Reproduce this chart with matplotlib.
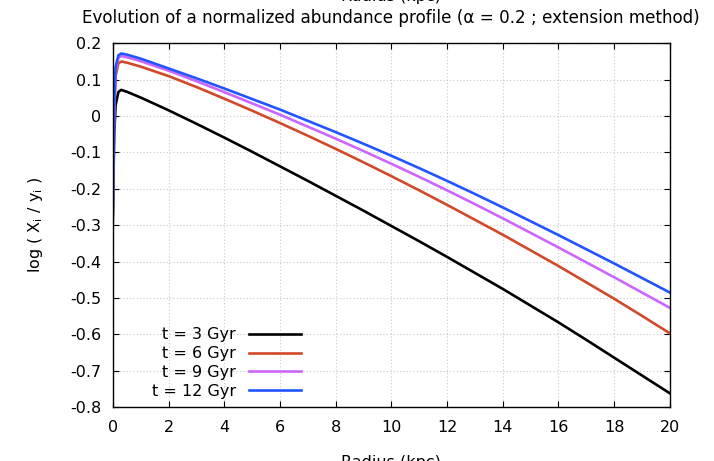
import numpy as np
import matplotlib
matplotlib.use('Agg')
import matplotlib.pyplot as plt

plt.rcParams['font.family'] = ['DejaVu Sans']
plt.rcParams['mathtext.default'] = 'regular'

radius = [0, 0.05, 0.1, 0.2, 0.3, 0.5, 1, 2, 3, 4, 5, 6, 7, 8, 9, 10,
          11, 12, 13, 14, 15, 16, 17, 18, 19, 20]

t3 = [-0.29, -0.05, 0.03, 0.066, 0.072, 0.067, 0.051, 0.016, -0.021, -0.059,
      -0.098, -0.138, -0.178, -0.219, -0.260, -0.302, -0.344, -0.387, -0.431,
      -0.475, -0.521, -0.567, -0.615, -0.664, -0.713, -0.762]
t6 = [-0.27, 0.0, 0.11, 0.145, 0.150, 0.147, 0.136, 0.110, 0.080, 0.048,
      0.015, -0.019, -0.054, -0.090, -0.127, -0.165, -0.204, -0.244, -0.285,
      -0.326, -0.369, -0.412, -0.457, -0.502, -0.549, -0.597]
t9 = [-0.265, 0.02, 0.125, 0.160, 0.165, 0.162, 0.151, 0.125, 0.096, 0.066,
      0.035, 0.004, -0.029, -0.062, -0.096, -0.131, -0.167, -0.204, -0.242,
      -0.281, -0.321, -0.361, -0.402, -0.443, -0.485, -0.527]
t12 = [-0.26, 0.03, 0.135, 0.167, 0.172, 0.169, 0.158, 0.131, 0.104, 0.076,
       0.047, 0.018, -0.013, -0.044, -0.076, -0.109, -0.143, -0.178, -0.214,
       -0.251, -0.289, -0.327, -0.366, -0.405, -0.445, -0.485]

labels = ['t = 3 Gyr', 't = 6 Gyr', 't = 9 Gyr', 't = 12 Gyr']
colors = ['#000000', '#d2492a', '#cc66ff', '#2255ff']
yticks = [-0.8, -0.7, -0.6, -0.5, -0.4, -0.3, -0.2, -0.1, 0.0, 0.1, 0.2]

fig = plt.figure(figsize=(7.14, 4.61), dpi=100)
ax = fig.add_axes([0.158, 0.117, 0.780, 0.789])

for ys, lab, c in zip([t3, t6, t9, t12], labels, colors):
    ax.plot(radius, ys, color=c, lw=1.9, label=lab)

ax.set_xlim(0, 20)
ax.set_ylim(-0.8, 0.2)
ax.set_xticks(np.arange(0, 21, 2))
ax.set_yticks(yticks)
ax.set_yticklabels(['%g' % v for v in yticks])
ax.grid(True, color='#c8c8c8', linestyle=(0, (1, 2)), lw=0.8)
ax.tick_params(direction='in', top=True, right=True, length=4.3, width=0.8,
               labelsize=11.5)
ax.tick_params(axis='x', pad=9)
ax.tick_params(axis='y', pad=8.5)
for s in ax.spines.values():
    s.set_linewidth(1.0)

ax.set_ylabel('log ( X$_i$ / y$_i$ )', fontsize=11.5, labelpad=18)
ax.set_title('Evolution of a normalized abundance profile (α = 0.2 ; extension method)',
             fontsize=12.1, pad=14.5)
# cut-off axis labels at the very top and bottom
fig.text(0.548, 0.998, 'Radius (kpc)', ha='center', va='baseline', fontsize=11.5)
fig.text(0.548, -0.012, 'Radius (kpc)', ha='center', va='baseline', fontsize=11.5)

ax.legend(loc='lower right', bbox_to_anchor=(0.352, 0.0), frameon=False,
          markerfirst=False, fontsize=11.5, handlelength=3.25, handletextpad=0.8,
          labelspacing=0.25, borderaxespad=0.3, borderpad=0.2)

fig.savefig('out.png', dpi=100)
